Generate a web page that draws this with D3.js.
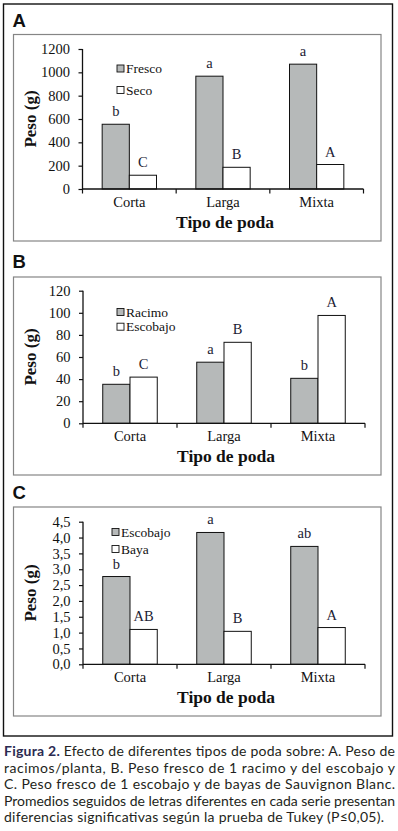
<!DOCTYPE html>
<html>
<head>
<meta charset="utf-8">
<script src="https://cdn.jsdelivr.net/npm/d3@7"></script>
<style>
  html, body { margin: 0; padding: 0; background: #fff; }
  svg { display: block; }
</style>
</head>
<body>
<svg id="chart" width="398" height="831"></svg>
<script>
// ---------- DATA ----------
const categories = ["Corta", "Larga", "Mixta"];

// Panel A: Peso de racimos/planta (g)
const seriesA = ["Fresco", "Seco"];
const frescoA = [555, 967, 1070];
const secoA = [118, 186, 210];
const lettersFrescoA = ["b", "a", "a"];
const lettersSecoA = ["C", "B", "A"];
const ticksA = [0, 200, 400, 600, 800, 1000, 1200];

// Panel B: Peso fresco de 1 racimo y del escobajo (g)
const seriesB = ["Racimo", "Escobajo"];
const racimoB = [35.3, 55.3, 40.7];
const escobajoB = [41.8, 73.3, 97.6];
const lettersRacimoB = ["b", "a", "b"];
const lettersEscobajoB = ["C", "B", "A"];
const ticksB = [0, 20, 40, 60, 80, 100, 120];

// Panel C: Peso fresco de 1 escobajo y de bayas (g)
const seriesC = ["Escobajo", "Baya"];
const escobajoC = [2.77, 4.16, 3.72];
const bayaC = [1.10, 1.04, 1.16];
const lettersEscobajoC = ["b", "a", "ab"];
const lettersBayaC = ["AB", "B", "A"];
const ticksC = [0, 0.5, 1, 1.5, 2, 2.5, 3, 3.5, 4, 4.5];

const captionLines = [
  "Efecto de diferentes tipos de poda sobre: A. Peso de",
  "racimos/planta, B. Peso fresco de 1 racimo y del escobajo y",
  "C. Peso fresco de 1 escobajo y de bayas de Sauvignon Blanc.",
  "Promedios seguidos de letras diferentes en cada serie presentan",
  "diferencias significativas según la prueba de Tukey (P≤0,05)."
];

// ---------- DRAW ----------
const svg = d3.select("#chart");
const SERIF = "'Liberation Serif', 'Times New Roman', serif";
const SANS = "'Liberation Sans', Arial, sans-serif";
const GRAY = "#b6b9b9";
const LETTER = "#1c1c34";

// outer frame
svg.append("rect").attr("x", 3.5).attr("y", 4).attr("width", 389).attr("height", 732)
  .attr("fill", "none").attr("stroke", "#111").attr("stroke-width", 1.4);

function panel(cfg) {
  const g = svg.append("g");
  // panel letter
  g.append("text").attr("x", 12.5).attr("y", cfg.labelY)
    .attr("font-family", SANS).attr("font-weight", "bold").attr("font-size", 18.5)
    .attr("fill", "#111").text(cfg.label);
  // inner box
  g.append("rect").attr("x", 13.5).attr("y", cfg.boxTop).attr("width", 367.5)
    .attr("height", cfg.boxBottom - cfg.boxTop)
    .attr("fill", "none").attr("stroke", "#858585").attr("stroke-width", 1.2);

  const x0 = d3.scaleBand().domain(categories).range([cfg.xl, cfg.xr])
    .paddingInner(0.42).paddingOuter(0.21);
  const x1 = d3.scaleBand().domain([0, 1]).range([0, x0.bandwidth()]);
  const y = d3.scaleLinear().domain([0, cfg.max]).range([cfg.yBottom, cfg.yTop]);

  // bars
  const fills = [GRAY, "#ffffff"];
  cfg.values.forEach((vals, si) => {
    g.selectAll(null).data(vals).enter().append("rect")
      .attr("x", (d, i) => x0(categories[i]) + x1(si))
      .attr("y", d => y(d))
      .attr("width", x1.bandwidth())
      .attr("height", d => y(0) - y(d))
      .attr("fill", fills[si]).attr("stroke", "#111").attr("stroke-width", 1);
    g.selectAll(null).data(vals).enter().append("text")
      .attr("x", (d, i) => x0(categories[i]) + x1(si) + x1.bandwidth() / 2)
      .attr("y", d => y(d) - 8)
      .attr("text-anchor", "middle")
      .attr("font-family", SERIF).attr("font-size", 14.5).attr("fill", LETTER)
      .text((d, i) => cfg.letters[si][i]);
  });

  // y axis
  const yAxis = d3.axisLeft(y).tickValues(cfg.ticks).tickSize(4).tickSizeOuter(0)
    .tickPadding(8.5).tickFormat(cfg.fmt);
  const ya = g.append("g").attr("transform", `translate(${cfg.xl},0)`).call(yAxis);
  ya.select(".domain").attr("stroke", "#111").attr("stroke-width", 1.3)
    .attr("d", `M0,${cfg.yTop}V${cfg.yBottom}`);
  ya.selectAll(".tick line").attr("stroke", "#111").attr("stroke-width", 1.2);
  ya.selectAll(".tick text").attr("font-family", SERIF).attr("font-size", 14.5)
    .attr("fill", "#111");

  // x axis
  g.append("line").attr("x1", cfg.xl).attr("x2", cfg.xr)
    .attr("y1", cfg.yBottom).attr("y2", cfg.yBottom)
    .attr("stroke", "#111").attr("stroke-width", 1.3);
  const bounds = [cfg.xl].concat(categories.map(c => x0(c) + x0.bandwidth() + x0.step() * x0.paddingInner() / 2));
  bounds[bounds.length - 1] = cfg.xr;
  g.selectAll(null).data(bounds).enter().append("line")
    .attr("x1", d => d).attr("x2", d => d)
    .attr("y1", cfg.yBottom).attr("y2", cfg.yBottom + 4.5)
    .attr("stroke", "#111").attr("stroke-width", 1.2);
  g.selectAll(null).data(categories).enter().append("text")
    .attr("x", d => x0(d) + x0.bandwidth() / 2)
    .attr("y", cfg.yBottom + 17.5)
    .attr("text-anchor", "middle")
    .attr("font-family", SERIF).attr("font-size", 14.5).attr("fill", "#111")
    .text(d => d);

  // axis titles
  g.append("text").attr("x", (cfg.xl + cfg.xr) / 2 + 2).attr("y", cfg.yBottom + 38.5)
    .attr("text-anchor", "middle").attr("font-family", SERIF).attr("font-weight", "bold")
    .attr("font-size", 17.5).attr("fill", "#111").text("Tipo de poda");
  const ym = (cfg.yTop + cfg.yBottom) / 2;
  g.append("text").attr("transform", `translate(36,${ym}) rotate(-90)`)
    .attr("text-anchor", "middle").attr("font-family", SERIF).attr("font-weight", "bold")
    .attr("font-size", 17).attr("fill", "#111").text("Peso (g)");

  // legend
  cfg.series.forEach((s, i) => {
    const ly = cfg.legendY[i];
    g.append("rect").attr("x", cfg.legendX).attr("y", ly - 3.5).attr("width", 7).attr("height", 7)
      .attr("fill", fills[i]).attr("stroke", "#111").attr("stroke-width", 0.9);
    g.append("text").attr("x", cfg.legendX + 9).attr("y", ly + 4.5)
      .attr("font-family", SERIF).attr("font-size", 13.5).attr("fill", "#111").text(s);
  });
}

panel({
  label: "A", labelY: 26.5, boxTop: 34.5, boxBottom: 241,
  xl: 82.5, xr: 363.5, yTop: 49, yBottom: 189, max: 1200,
  ticks: ticksA, fmt: d3.format("d"),
  values: [frescoA, secoA], letters: [lettersFrescoA, lettersSecoA],
  series: seriesA, legendX: 117, legendY: [68.5, 90]
});
panel({
  label: "B", labelY: 268, boxTop: 277, boxBottom: 475,
  xl: 83, xr: 365, yTop: 290.7, yBottom: 423.3, max: 120,
  ticks: ticksB, fmt: d3.format("d"),
  values: [racimoB, escobajoB], letters: [lettersRacimoB, lettersEscobajoB],
  series: seriesB, legendX: 117, legendY: [312, 326.7]
});
panel({
  label: "C", labelY: 498.5, boxTop: 507, boxBottom: 716,
  xl: 83, xr: 365, yTop: 521.7, yBottom: 664.3, max: 4.5,
  ticks: ticksC, fmt: d => d.toFixed(1).replace(".", ","),
  values: [escobajoC, bayaC], letters: [lettersEscobajoC, lettersBayaC],
  series: seriesC, legendX: 112, legendY: [532, 549]
});

// caption
const capBase = [756, 772.5, 789, 805.5, 822];
const capWidths = [391, 391, 391, 391, 380];
captionLines.forEach((line, i) => {
  const t = svg.append("text").attr("x", 4).attr("y", capBase[i])
    .attr("font-family", "Lato, 'Open Sans', sans-serif").attr("font-size", 14)
    .attr("fill", "#231f20")
    .attr("textLength", capWidths[i]).attr("lengthAdjust", "spacing");
  if (i === 0) {
    t.append("tspan").attr("font-weight", "bold").attr("fill", "#2b2b52").text("Figura 2. ");
  }
  t.append("tspan").text(line);
});
</script>
</body>
</html>
